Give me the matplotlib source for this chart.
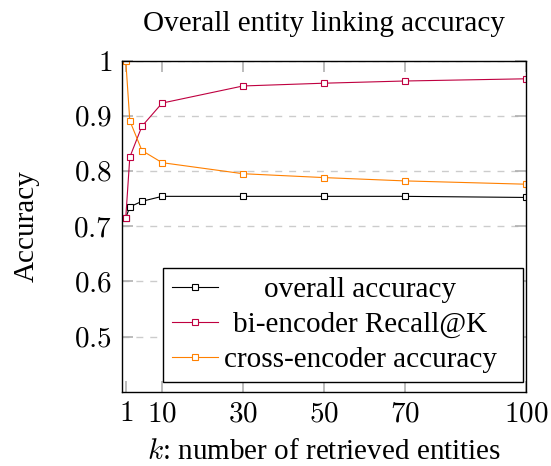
import matplotlib
matplotlib.use("Agg")
import matplotlib.pyplot as plt
from matplotlib.offsetbox import DrawingArea

plt.rcParams['font.family'] = ['Liberation Serif', 'DejaVu Serif']
plt.rcParams['mathtext.fontset'] = 'cm'

k_values = [1, 2, 5, 10, 30, 50, 70, 100]
overall_acc = [0.715, 0.735, 0.745, 0.754, 0.754, 0.754, 0.754, 0.752]
biencoder_recall = [0.715, 0.825, 0.881, 0.923, 0.954, 0.959, 0.963, 0.967]
crossencoder_acc = [1.0, 0.891, 0.837, 0.815, 0.795, 0.788, 0.782, 0.776]

series_labels = ["overall accuracy", "bi-encoder Recall@K", "cross-encoder accuracy"]
x_ticks = [1, 10, 30, 50, 70, 100]
y_ticks = [0.5, 0.6, 0.7, 0.8, 0.9, 1.0]
y_tick_labels = ["0.5", "0.6", "0.7", "0.8", "0.9", "1"]

fig = plt.figure(figsize=(5.51, 4.66), dpi=100)
ax = fig.add_axes([0.2209, 0.1594, 0.7337, 0.7106])

colors = ['black', '#BF0040', '#FF8000']
for vals, lab, c in zip([overall_acc, biencoder_recall, crossencoder_acc], series_labels, colors):
    ax.plot(k_values, vals, color=c, lw=0.8, marker='s', markersize=4,
            markerfacecolor='white', markeredgecolor=c, markeredgewidth=0.8,
            label=lab, zorder=3)

ax.set_xlim(0, 100)
ax.set_ylim(0.4, 1.0)
ax.set_xticks(x_ticks)
ax.set_xticklabels(["$%d$" % t for t in x_ticks])
ax.set_yticks(y_ticks)
ax.set_yticklabels(["$%s$" % t for t in y_tick_labels])
ax.tick_params(direction='in', length=8, width=1.2, color='#b0b0b0',
               top=True, right=True, labelsize=21, pad=7)
ax.grid(axis='y', color='#cccccc', ls=(0, (5, 5)), lw=1)
for s in ax.spines.values():
    s.set_linewidth(1)
    s.set_zorder(4)

ax.set_title("Overall entity linking accuracy", fontsize=21, pad=21)
ax.set_xlabel("$k$: number of retrieved entities", fontsize=21, labelpad=8)
ax.set_ylabel("Accuracy", fontsize=21, labelpad=24)

leg = ax.legend(loc='lower right', bbox_to_anchor=(0.992, 0.03), fontsize=21,
                frameon=True, fancybox=False, framealpha=1, edgecolor='black',
                handlelength=1.6, handletextpad=0.2, borderpad=0.3,
                labelspacing=0.29, borderaxespad=0)
leg.get_frame().set_linewidth(1)

# extra room on the right of the entries, like pgfplots
for row in leg._legend_handle_box.get_children()[0].get_children():
    row.get_children().append(DrawingArea(8, 1))

# center legend texts like pgfplots
renderer = fig.canvas.get_renderer()
widths = [t.get_window_extent(renderer).width for t in leg.get_texts()]
wmax = max(widths)
for t, w in zip(leg.get_texts(), widths):
    t.set_x((wmax - w) / 2)

fig.savefig("out.png", dpi=100)
